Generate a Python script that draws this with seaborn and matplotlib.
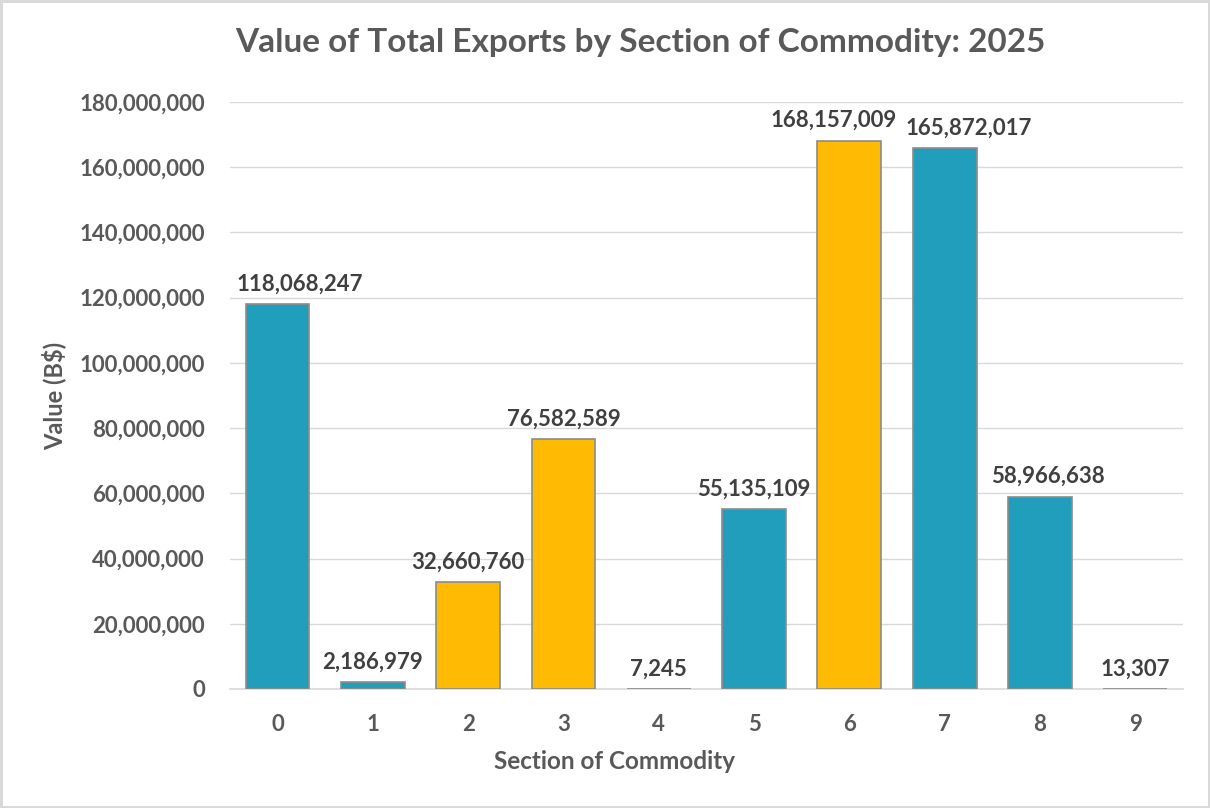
import matplotlib
matplotlib.use("Agg")
import matplotlib.pyplot as plt
import seaborn as sns
import pandas as pd
from matplotlib.ticker import FuncFormatter

sections = ["0", "1", "2", "3", "4", "5", "6", "7", "8", "9"]
values = [118068247, 2186979, 32660760, 76582589, 7245, 55135109,
          168157009, 165872017, 58966638, 13307]
groups = ["a", "a", "b", "b", "a", "a", "b", "a", "a", "a"]
palette = {"a": "#219EBC", "b": "#FFBA03"}
# horizontal nudges of the value labels (pixels), as placed in the original
label_dx = [22, 0, 0, 0, 0, 0, -16, 24, 8, 0]

df = pd.DataFrame({"section": sections, "value": values, "group": groups})

sns.set_theme(style="white")
plt.rcParams["font.family"] = ["Lato", "DejaVu Sans"]
plt.rcParams["font.weight"] = "bold"

fig = plt.figure(figsize=(12.1, 8.08), dpi=100)
fig.patch.set_facecolor("white")
fig.patch.set_edgecolor("#D9D9D9")
fig.patch.set_linewidth(2.5)
ax = fig.add_axes([0.190, 0.1473, 0.7876, 0.7265])

sns.barplot(data=df, x="section", y="value", hue="group", palette=palette,
            order=sections, dodge=False, width=0.67, edgecolor="#8C8C8C",
            linewidth=1.2, saturation=1, legend=False, ax=ax, zorder=3)

ax.set_ylim(0, 180000000)
ax.set_xlim(-0.5, 9.5)
ax.set_yticks(range(0, 180000001, 20000000))
ax.yaxis.set_major_formatter(FuncFormatter(lambda v, p: f"{int(v):,}"))
ax.grid(axis="y", color="#D9D9D9", linewidth=1.0, zorder=0)
ax.set_axisbelow(True)
for s in ["top", "right", "left"]:
    ax.spines[s].set_visible(False)
ax.spines["bottom"].set_color("#D9D9D9")
ax.spines["bottom"].set_linewidth(1.2)
ax.spines["bottom"].set_zorder(2)

ax.tick_params(axis="y", length=0, pad=18, labelsize=16, labelcolor="#595959")
ax.tick_params(axis="x", length=0, pad=18, labelsize=16, labelcolor="#595959")
for lab in ax.get_xticklabels() + ax.get_yticklabels():
    lab.set_fontweight("bold")

px = 72.0 / fig.dpi
for i, v in enumerate(values):
    ax.annotate(f"{v:,}", xy=(i, v), xytext=(label_dx[i] * px, 20 * px),
                textcoords="offset points", ha="center", va="center",
                fontsize=16, fontweight="bold", color="#404040", zorder=5)

ax.set_xlabel("Section of Commodity", fontsize=17.5, fontweight="bold",
              color="#595959")
ax.xaxis.set_label_coords(0.404, -0.1045)
ax.set_ylabel("Value (B$)", fontsize=17, fontweight="bold",
              color="#595959")
ax.yaxis.set_label_coords(-0.172, 0.5)
fig.text(0.529, 0.948, "Value of Total Exports by Section of Commodity: 2025",
         ha="center", va="center", fontsize=24, fontweight="bold",
         color="#595959")

fig.savefig("out.png", dpi=100, facecolor=fig.get_facecolor(),
            edgecolor=fig.get_edgecolor())
